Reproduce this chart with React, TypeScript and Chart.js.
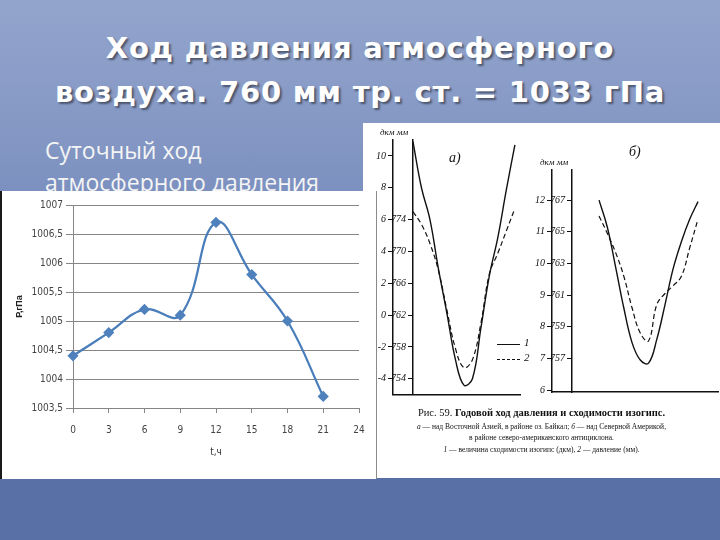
import React, { useEffect, useRef } from "react";
import { Chart, registerables } from "chart.js";
Chart.register(...registerables);

// ---- main chart data ----
const hours = [0, 3, 6, 9, 12, 15, 18, 21];
const pressure = [1004.4, 1004.8, 1005.2, 1005.1, 1006.7, 1005.8, 1005.0, 1003.7];
const xTickValues = [0, 3, 6, 9, 12, 15, 18, 21, 24];
const xTickLabels = ["0", "3", "6", "9", "12", "15", "18", "21", "24"];
const yTickValues = [1003.5, 1004, 1004.5, 1005, 1005.5, 1006, 1006.5, 1007];
const yTickLabels = ["1003,5", "1004", "1004,5", "1005", "1005,5", "1006", "1006,5", "1007"];

// ---- scanned figure data (annual course) ----
const months = [1, 2, 3, 4, 5, 6, 7, 8, 9, 10, 11, 12, 13];
const monthTickValues = [1, 4, 7, 10, 13];
const monthLabels = ["I", "IV", "VII", "X", "I"];
const aSolid = [10.9, 8.0, 6.0, 2.9, 0.1, -2.8, -4.4, -4.0, -0.8, 2.5, 4.9, 7.9, 10.7];
const aDashed = [6.5, 5.7, 4.5, 2.8, 0.3, -2.1, -3.3, -2.8, -0.5, 2.6, 3.9, 5.3, 6.7];
const aDkmTicks = [-4, -2, 0, 2, 4, 6, 8, 10];
const aMmTicks = [754, 758, 762, 766, 770, 774];
const bSolid = [12.0, 11.15, 9.9, 8.6, 7.5, 6.95, 6.85, 7.6, 8.7, 9.85, 10.7, 11.4, 11.95];
const bDashed = [11.5, 10.95, 10.35, 9.6, 8.6, 7.8, 7.55, 8.7, 9.05, 9.3, 9.6, 10.5, 11.4];
const bDkmTicks = [6, 7, 8, 9, 10, 11, 12];
const bMmTicks = [757, 759, 761, 763, 765, 767];

const NARROW = '"Liberation Sans Narrow", "DejaVu Sans Condensed", "Liberation Sans", sans-serif';
const SERIF = '"Liberation Serif", "DejaVu Serif", serif';
const LABEL_GAP = "\u2002\u2009";

function MainChart() {
  const ref = useRef<HTMLCanvasElement>(null);
  useEffect(() => {
    const chart = new Chart(ref.current as HTMLCanvasElement, {
      type: "line",
      data: {
        datasets: [
          {
            data: hours.map((h, i) => ({ x: h, y: pressure[i] })),
            borderColor: "#4a7ebb",
            borderWidth: 2.25,
            tension: 0.42,
            pointStyle: "rectRot",
            pointRadius: 4,
            pointBackgroundColor: "#4f81bd",
            pointBorderColor: "#4f81bd",
            clip: false as any,
          },
        ],
      },
      options: {
        animation: false,
        responsive: false,
        maintainAspectRatio: false,
        layout: { padding: { left: 8, right: 17, top: 14, bottom: 0 } },
        plugins: { legend: { display: false }, tooltip: { enabled: false } },
        scales: {
          x: {
            type: "linear",
            min: 0,
            max: 24,
            afterBuildTicks: (s: any) => {
              s.ticks = xTickValues.map((v) => ({ value: v }));
            },
            ticks: {
              callback: (_v: any, i: number) => xTickLabels[i],
              padding: 11,
              font: { family: NARROW, size: 10 },
              color: "#444",
              maxRotation: 0,
              autoSkip: false,
            },
            grid: { drawOnChartArea: false, tickLength: 5, color: "#868686" },
            border: { color: "#868686" },
            title: {
              display: true,
              text: "t,ч",
              font: { family: NARROW, size: 10 },
              color: "#333",
              padding: { top: 0, bottom: 21 },
            },
            afterFit: (s: any) => {
              s.height = 71;
            },
          },
          y: {
            type: "linear",
            min: 1003.5,
            max: 1007,
            afterBuildTicks: (s: any) => {
              s.ticks = yTickValues.map((v) => ({ value: v }));
            },
            ticks: {
              callback: (_v: any, i: number) => yTickLabels[i],
              padding: 3,
              font: { family: NARROW, size: 10 },
              color: "#444",
            },
            grid: { color: "#868686", tickLength: 7 },
            border: { color: "#868686" },
            title: {
              display: true,
              text: "P,гПа",
              font: { family: '"Liberation Sans", sans-serif', size: 9, weight: "bold" },
              color: "#222",
              padding: { top: 4, bottom: 0 },
            },
            afterFit: (s: any) => {
              s.width = 63;
            },
          },
        },
      },
    } as any);
    return () => chart.destroy();
  }, []);
  return <canvas ref={ref} width={374} height={288} style={{ display: "block" }} />;
}

type PanelProps = {
  width: number;
  height: number;
  pad: { left: number; right: number; top: number; bottom: number };
  xMin: number;
  xMax: number;
  dkmMin: number;
  dkmMax: number;
  mmMin: number;
  mmMax: number;
  mmAt: number;
  dkmTicks: number[];
  mmTicks: number[];
  solid: number[];
  dashed: number[];
};

function Panel(p: PanelProps) {
  const ref = useRef<HTMLCanvasElement>(null);
  useEffect(() => {
    const tickFont = { family: SERIF, size: 10, style: "italic" as const };
    const chart = new Chart(ref.current as HTMLCanvasElement, {
      type: "line",
      data: {
        datasets: [
          {
            data: months.map((m, i) => ({ x: m, y: p.solid[i] })),
            borderColor: "#111",
            borderWidth: 1.4,
            tension: 0.4,
            pointRadius: 0,
            xAxisID: "x",
            yAxisID: "y",
          },
          {
            data: months.map((m, i) => ({ x: m, y: p.dashed[i] })),
            borderColor: "#111",
            borderWidth: 1.2,
            borderDash: [5, 3],
            tension: 0.4,
            pointRadius: 0,
            xAxisID: "x",
            yAxisID: "y",
          },
        ],
      },
      options: {
        animation: false,
        responsive: false,
        maintainAspectRatio: false,
        layout: { padding: p.pad },
        plugins: { legend: { display: false }, tooltip: { enabled: false } },
        scales: {
          x: {
            type: "linear",
            axis: "x",
            position: "bottom",
            min: p.xMin,
            max: p.xMax,
            afterBuildTicks: (s: any) => {
              s.ticks = monthTickValues.map((v) => ({ value: v }));
            },
            ticks: {
              callback: (_v: any, i: number) => monthLabels[i],
              padding: 2,
              font: tickFont,
              color: "#111",
              maxRotation: 0,
              autoSkip: false,
            },
            grid: { display: false },
            border: { color: "#111", width: 1.5 },
            afterFit: (s: any) => {
              s.height = 0;
            },
          },
          y: {
            type: "linear",
            axis: "y",
            position: { x: p.xMin },
            min: p.dkmMin,
            max: p.dkmMax,
            afterBuildTicks: (s: any) => {
              s.ticks = p.dkmTicks.map((v) => ({ value: v }));
            },
            ticks: {
              padding: 0,
              font: tickFont,
              color: "#111",
              callback: (v: any) => String(v) + LABEL_GAP,
            },
            grid: { drawOnChartArea: false, tickLength: 4, color: "#111" },
            border: { color: "#111", width: 1.5 },
          },
          mm: {
            type: "linear",
            axis: "y",
            position: { x: p.mmAt },
            min: p.mmMin,
            max: p.mmMax,
            afterBuildTicks: (s: any) => {
              s.ticks = p.mmTicks.map((v) => ({ value: v }));
            },
            ticks: {
              padding: 0,
              font: tickFont,
              color: "#111",
              callback: (v: any) => String(v) + LABEL_GAP,
            },
            grid: { drawOnChartArea: false, tickLength: 4, color: "#111" },
            border: { color: "#111", width: 1.5 },
          },
        },
      },
    } as any);
    return () => chart.destroy();
  }, []);
  return <canvas ref={ref} width={p.width} height={p.height} style={{ display: "block" }} />;
}

export default function App() {
  return (
    <div
      style={{
        position: "absolute",
        left: 0,
        top: 0,
        width: 720,
        height: 540,
        overflow: "hidden",
        background:
          "linear-gradient(to bottom, #93a5cc 0%, #8497c4 25%, #7088ba 50%, #5f79ae 80%, #5870a6 88%, #5870a6 100%)",
      }}
    >
      <div
        style={{
          position: "absolute",
          left: 0,
          top: 26,
          width: 720,
          textAlign: "center",
          color: "#fff",
          fontFamily: '"DejaVu Sans", sans-serif',
          fontWeight: "bold",
          fontSize: 29,
          letterSpacing: 0.8,
          lineHeight: "44px",
          textShadow: "2px 2px 2px rgba(0,0,0,0.45)",
        }}
      >
        Ход давления атмосферного
        <br />
        воздуха. 760 мм тр. ст. = 1033 гПа
      </div>
      <div
        style={{
          position: "absolute",
          left: 45,
          top: 134,
          color: "#f4f4f4",
          fontFamily: '"Open Sans", sans-serif',
          fontSize: 23,
          lineHeight: "32px",
        }}
      >
        Суточный ход
        <br />
        атмосферного давления
      </div>

      {/* scanned figure */}
      <div
        style={{
          position: "absolute",
          left: 363,
          top: 123,
          width: 357,
          height: 355,
          background: "#fff",
          color: "#111",
          fontFamily: SERIF,
        }}
      >
        <div style={{ position: "absolute", left: 0, top: 0 }}>
          <Panel
            width={170}
            height={290}
            pad={{ left: 30, right: 13, top: 17, bottom: 18.3 }}
            xMin={-1.35}
            xMax={13.6}
            dkmMin={-5}
            dkmMax={11}
            mmMin={752}
            mmMax={784}
            mmAt={1}
            dkmTicks={aDkmTicks}
            mmTicks={aMmTicks}
            solid={aSolid}
            dashed={aDashed}
          />
        </div>
        <div style={{ position: "absolute", left: 170, top: 30 }}>
          <Panel
            width={187}
            height={260}
            pad={{ left: 19, right: 2, top: 17, bottom: 21 }}
            xMin={-4.7}
            xMax={15.42}
            dkmMin={5.94}
            dkmMax={12.95}
            mmMin={754.88}
            mmMax={768.9}
            mmAt={-2.27}
            dkmTicks={bDkmTicks}
            mmTicks={bMmTicks}
            solid={bSolid}
            dashed={bDashed}
          />
        </div>
        <div style={{ position: "absolute", left: 17, top: 4, fontSize: 9, fontStyle: "italic" }}>дкм мм</div>
        <div style={{ position: "absolute", left: 177, top: 34, fontSize: 9, fontStyle: "italic" }}>дкм мм</div>
        <div style={{ position: "absolute", left: 86, top: 27, fontSize: 14, fontStyle: "italic" }}>а)</div>
        <div style={{ position: "absolute", left: 266, top: 21, fontSize: 14, fontStyle: "italic" }}>б)</div>
        <div style={{ position: "absolute", left: 134, top: 221, width: 23, borderTop: "1.3px solid #111" }} />
        <div style={{ position: "absolute", left: 134, top: 236, width: 23, borderTop: "1.3px dashed #111" }} />
        <div style={{ position: "absolute", left: 161, top: 213, fontSize: 11, fontStyle: "italic" }}>1</div>
        <div style={{ position: "absolute", left: 161, top: 228, fontSize: 11, fontStyle: "italic" }}>2</div>
        <div
          style={{
            position: "absolute",
            left: 0,
            top: 283,
            width: 357,
            textAlign: "center",
            fontSize: 10.5,
            lineHeight: "14px",
          }}
        >
          Рис. 59. <b>Годовой ход давления и сходимости изогипс.</b>
        </div>
        <div
          style={{
            position: "absolute",
            left: 0,
            top: 299,
            width: 357,
            textAlign: "center",
            fontSize: 7.5,
            lineHeight: "10.5px",
          }}
        >
          <i>а</i> — над Восточной Азией, в районе оз. Байкал; <i>б</i> — над Северной Америкой,
          <br />в районе северо-американского антициклона.
          <br />
          <span style={{ lineHeight: "13px" }}>
            <i>1</i> — величина сходимости изогипс (дкм), <i>2</i> — давление (мм).
          </span>
        </div>
      </div>

      {/* main chart box */}
      <div
        style={{
          position: "absolute",
          left: 0,
          top: 191,
          width: 377,
          height: 288,
          boxSizing: "border-box",
          background: "#fff",
          borderLeft: "2px solid #1a1a1a",
          borderRight: "1px solid #8a8a8a",
        }}
      >
        <MainChart />
      </div>
    </div>
  );
}
